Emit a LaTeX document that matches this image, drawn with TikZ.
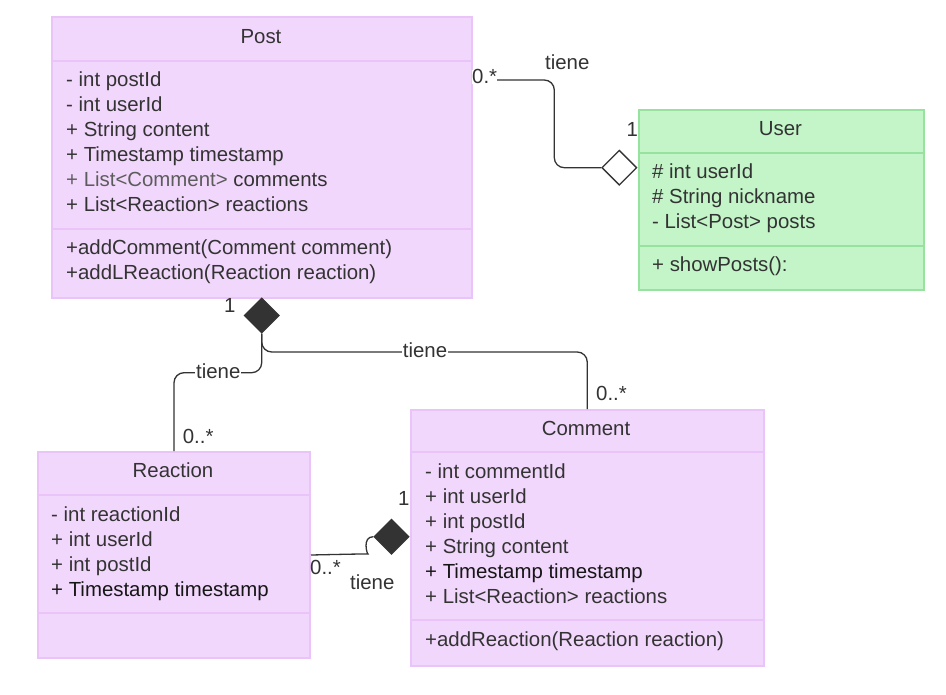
\documentclass[tikz,border=0pt]{standalone}
\usepackage{fontspec}
\setmainfont{Liberation Sans}
\usepackage{tikz}
\usetikzlibrary{shapes,positioning}
\definecolor{umlpurple}{RGB}{242,215,252}
\definecolor{umlpurpleline}{RGB}{234,196,248}
\definecolor{umlgreen}{RGB}{195,245,200}
\definecolor{umlgreenline}{RGB}{150,226,158}
\definecolor{umltext}{RGB}{51,51,51}
\definecolor{umlgray}{RGB}{92,92,92}
\definecolor{umlblack}{RGB}{22,22,22}
\tikzstyle{classbox} = [draw=umlpurpleline,fill=umlpurple,line width=2pt,anchor=north west,inner sep=0]
\tikzstyle{userbox} = [classbox,draw=umlgreenline,fill=umlgreen]
\tikzstyle{divider} = [line width=2pt,color=umlpurpleline]
\tikzstyle{member} = [anchor=base west,inner sep=0,text=umltext,font=\fontsize{20.4}{25}\selectfont]
\tikzstyle{classtitle} = [member,anchor=base]
\tikzstyle{assoc} = [line width=1.3pt,color=umltext,rounded corners=10pt]
\tikzstyle{opendiamond} = [diamond,draw=umltext,fill=white,line width=1.3pt,minimum width=35pt,minimum height=35pt,inner sep=0]
\tikzstyle{fulldiamond} = [opendiamond,fill=umltext]
\tikzstyle{multlabel} = [member]
\tikzstyle{rolelabel} = [member,fill=white,inner sep=1pt]

\begin{document}
\begin{tikzpicture}[x=1pt,y=-1pt]
\useasboundingbox (0,0) rectangle (946,695);

% Class boxes
\node[classbox,minimum width=420,minimum height=281] (post) at (51,16) {};
\node[userbox,minimum width=285,minimum height=179.5] (user) at (638,109.5) {};
\node[classbox,minimum width=272,minimum height=206] (reaction) at (37,451) {};
\node[classbox,minimum width=352.5,minimum height=255.5] (comment) at (410,409) {};

% Dividers
\draw[divider] (post.west |- 0,61) -- (post.east |- 0,61);
\draw[divider] (post.west |- 0,229) -- (post.east |- 0,229);
\draw[divider,color=umlgreenline] (user.west |- 0,153) -- (user.east |- 0,153);
\draw[divider,color=umlgreenline] (user.west |- 0,246) -- (user.east |- 0,246);
\draw[divider] (reaction.west |- 0,494.5) -- (reaction.east |- 0,494.5);
\draw[divider] (reaction.west |- 0,612.5) -- (reaction.east |- 0,612.5);
\draw[divider] (comment.west |- 0,452) -- (comment.east |- 0,452);
\draw[divider] (comment.west |- 0,620) -- (comment.east |- 0,620);

% Post
\node[classtitle] (post-t) at (261,43.3) {Post};
\foreach \t [count=\i] in {- int postId, - int userId, + String content, + Timestamp timestamp,
  \textcolor{umlgray}{+ List<Comment>} comments, + List<Reaction> reactions}
  \node[member] (post-a\i) at (66,62+25*\i) {\t};
\foreach \t [count=\i] in {+addComment(Comment comment), +addLReaction(Reaction reaction)}
  \node[member] (post-m\i) at (66,230+25*\i) {\t};

% User
\node[classtitle] (user-t) at (780.5,136) {User};
\foreach \t [count=\i] in {\# int userId, \# String nickname, - List<Post> posts}
  \node[member] (user-a\i) at (652,153.3+25*\i) {\t};
\node[member] (user-m1) at (652,271.7) {+ showPosts():};

% Reaction
\node[classtitle] (reaction-t) at (173,477.3) {Reaction};
\foreach \t [count=\i] in {- int reactionId, + int userId, + int postId,
  \textcolor{umlblack}{+ Timestamp timestamp}}
  \node[member] (reaction-a\i) at (51,496+25*\i) {\t};

% Comment
\node[classtitle] (comment-t) at (586,435) {Comment};
\foreach \t [count=\i] in {- int commentId, + int userId, + int postId, + String content,
  \textcolor{umlblack}{+ Timestamp timestamp}, + List<Reaction> reactions}
  \node[member] (comment-a\i) at (425,453+25*\i) {\t};
\node[member] (comment-m1) at (425,646.7) {+addReaction(Reaction reaction)};

% Diamonds
\node[opendiamond] (udia) at (619.3,167.7) {};
\node[fulldiamond] (pdia) at (261.7,315.5) {};
\node[fulldiamond] (cdia) at (391.5,536.7) {};

% Connectors
\draw[assoc] ([yshift=-64pt]post.north east) -- (554.3,80) |- (udia.west);
\draw[assoc] (pdia.south) |- (200,372.7) -| (reaction.north);
\draw[assoc] (pdia.south) |- (400,352) -| (comment.north);
\draw[assoc] (reaction.east) -- (358,554) .. controls (367,554) and (362,536.7) .. (cdia.west);

% Labels
\node[rolelabel,inner sep=0] (l-pu-m) at (472,84) {0.*};
\node[multlabel] (l-pu-r) at (545,70) {tiene};
\node[multlabel] (l-pu-o) at (626.5,136.7) {1};
\node[multlabel] (l-pr-o) at (224,313) {1};
\node[rolelabel] (l-pr-r) at (195,378) {tiene};
\node[multlabel] (l-pr-m) at (182.7,443) {0..*};
\node[rolelabel] (l-pc-r) at (401.7,357) {tiene};
\node[multlabel] (l-pc-m) at (596,400) {0..*};
\node[multlabel] (l-cr-o) at (398,505) {1};
\node[multlabel] (l-cr-m) at (310,574) {0..*};
\node[multlabel] (l-cr-r) at (350,589) {tiene};
\end{tikzpicture}
\end{document}
